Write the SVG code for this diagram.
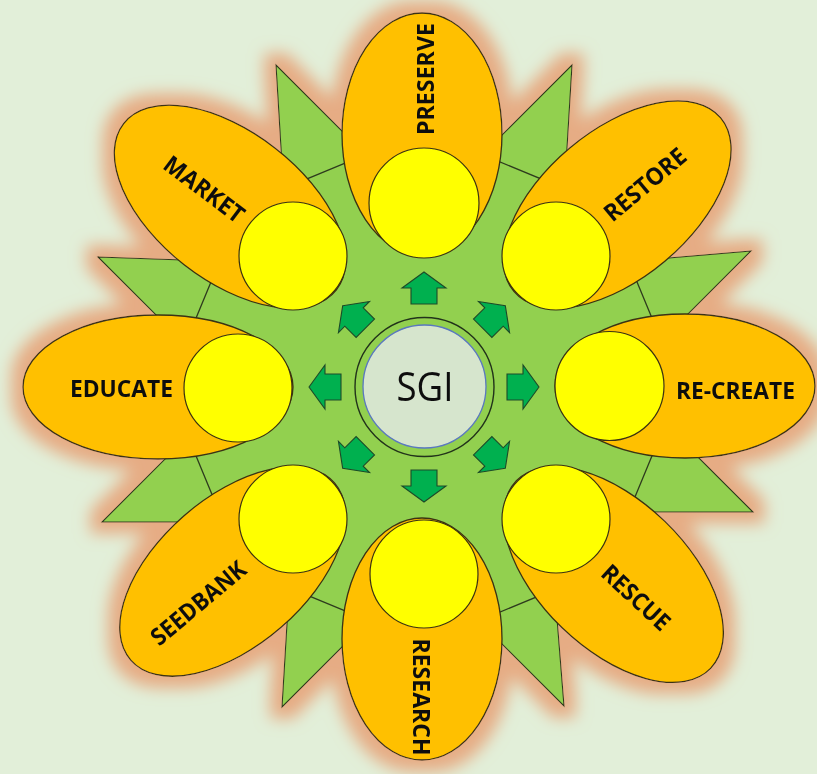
<svg xmlns="http://www.w3.org/2000/svg" xmlns:xlink="http://www.w3.org/1999/xlink" width="817" height="774" viewBox="0 0 817 774">
<defs>
<style>
.spike{fill:#92D050;stroke:#2E3B1E;stroke-width:1.1;stroke-linejoin:miter}
.oct{fill:#92D050;stroke:#2E3B1E;stroke-width:1.3}
.pet{fill:#FFC000;stroke:#3A3212;stroke-width:1.3}
.dot{fill:#FFFF00;stroke:#3A3212;stroke-width:1.2}
.lbl{font-family:"Open Sans","Liberation Sans",sans-serif;font-weight:bold;font-size:24px;fill:#111;text-anchor:middle}
.arr{fill:#00B050;stroke:#1E4A28;stroke-width:1.1;stroke-linejoin:miter}
</style>
<filter id="glow" x="-10%" y="-10%" width="120%" height="120%">
<feMorphology in="SourceAlpha" operator="dilate" radius="11" result="d"/>
<feGaussianBlur in="d" stdDeviation="8" result="b"/>
<feFlood flood-color="#E6AC84" result="f"/>
<feComposite in="f" in2="b" operator="in" result="g"/>
<feMerge><feMergeNode in="g"/><feMergeNode in="SourceGraphic"/></feMerge>
</filter>
<path id="arrow" d="M0,-115 L22,-99 L13,-99 L13,-83 L-13,-83 L-13,-99 L-22,-99 Z"/>
</defs>
<rect width="817" height="774" fill="#E2EFD9"/>
<g id="flower" filter="url(#glow)">
<g id="star">
<polygon class="spike" points="276,65 374.8,163.8 284.2,201.3"/>
<polygon class="spike" points="572,65 473.2,163.8 563.8,201.3"/>
<polygon class="spike" points="751,251 616,262.5 652.2,349.8"/>
<polygon class="spike" points="753,512 656,415 615.8,512"/>
<polygon class="spike" points="564,706 553.7,576.8 469.6,611.6"/>
<polygon class="spike" points="282,707 289.9,575.1 377.6,611.4"/>
<polygon class="spike" points="102,522 236.4,522 197.1,426.9"/>
<polygon class="spike" points="98,257 232.4,261.7 194.4,353.4"/>
<polygon class="oct" points="680.5,387 605.4,205.6 424,130.5 242.6,205.6 167.5,387 242.6,568.4 424,643.5 605.4,568.4"/>
</g>
<g id="preserve">
<ellipse class="pet" cx="422" cy="134" rx="80" ry="121"/>
<circle class="dot" cx="424" cy="203" r="55"/>
<text class="lbl" transform="translate(425.5,79) rotate(-90)" x="0" y="8.5" textLength="112" lengthAdjust="spacingAndGlyphs">PRESERVE</text>
</g>
<g id="restore">
<ellipse class="pet" cx="0" cy="0" rx="135" ry="74" transform="translate(617.3,204.6) rotate(-40)"/>
<circle class="dot" cx="556" cy="256" r="54"/>
<text class="lbl" transform="translate(645,184.5) rotate(-40)" x="0" y="8.5" textLength="99" lengthAdjust="spacingAndGlyphs">RESTORE</text>
</g>
<g id="recreate">
<ellipse class="pet" cx="685" cy="386" rx="130" ry="72"/>
<circle class="dot" cx="609.5" cy="386" r="54.5"/>
<text class="lbl" x="735.5" y="398.5" textLength="119" lengthAdjust="spacingAndGlyphs">RE-CREATE</text>
</g>
<g id="rescue">
<ellipse class="pet" cx="0" cy="0" rx="135" ry="74" transform="translate(613.5,574.6) rotate(44)"/>
<circle class="dot" cx="556" cy="519" r="54"/>
<text class="lbl" transform="translate(636,597.5) rotate(43)" x="0" y="8.5" textLength="84" lengthAdjust="spacingAndGlyphs">RESCUE</text>
</g>
<g id="research">
<ellipse class="pet" cx="422" cy="639" rx="80" ry="121"/>
<circle class="dot" cx="424" cy="574" r="54"/>
<text class="lbl" transform="translate(421,697) rotate(90)" x="0" y="8.5" textLength="117" lengthAdjust="spacingAndGlyphs">RESEARCH</text>
</g>
<g id="seedbank">
<ellipse class="pet" cx="0" cy="0" rx="135" ry="74" transform="translate(232.6,571.5) rotate(-41)"/>
<circle class="dot" cx="293" cy="519" r="54"/>
<text class="lbl" transform="translate(198.3,603) rotate(-40)" x="0" y="8.5" textLength="116" lengthAdjust="spacingAndGlyphs">SEEDBANK</text>
</g>
<g id="educate">
<ellipse class="pet" cx="158" cy="387" rx="135" ry="72"/>
<circle class="dot" cx="238" cy="388" r="54"/>
<text class="lbl" x="121.5" y="396.5" textLength="103" lengthAdjust="spacingAndGlyphs">EDUCATE</text>
</g>
<g id="market">
<ellipse class="pet" cx="0" cy="0" rx="135" ry="74" transform="translate(230,206.7) rotate(38)"/>
<circle class="dot" cx="293" cy="256" r="54"/>
<text class="lbl" transform="translate(204.2,189.2) rotate(37)" x="0" y="8.5" textLength="94" lengthAdjust="spacingAndGlyphs">MARKET</text>
</g>
<g id="sgi">
<circle cx="424.5" cy="387" r="69.5" fill="#92D050" stroke="#22331A" stroke-width="1.4"/>
<circle cx="424.5" cy="386.5" r="61.5" fill="#D6E5CD" stroke="#5A78C0" stroke-width="1.3"/>
<text x="425" y="401" font-family="'Open Sans','Liberation Sans',sans-serif" font-size="40" fill="#111" text-anchor="middle" textLength="57" lengthAdjust="spacingAndGlyphs">SGI</text>
</g>
<g id="connectors">
<use xlink:href="#arrow" class="arr" transform="translate(424,387) rotate(0)"/>
<use xlink:href="#arrow" class="arr" transform="translate(424,387) rotate(45)"/>
<use xlink:href="#arrow" class="arr" transform="translate(424,387) rotate(90)"/>
<use xlink:href="#arrow" class="arr" transform="translate(424,387) rotate(135)"/>
<use xlink:href="#arrow" class="arr" transform="translate(424,387) rotate(180)"/>
<use xlink:href="#arrow" class="arr" transform="translate(424,387) rotate(225)"/>
<use xlink:href="#arrow" class="arr" transform="translate(424,387) rotate(270)"/>
<use xlink:href="#arrow" class="arr" transform="translate(424,387) rotate(315)"/>
</g>
</g>
</svg>
